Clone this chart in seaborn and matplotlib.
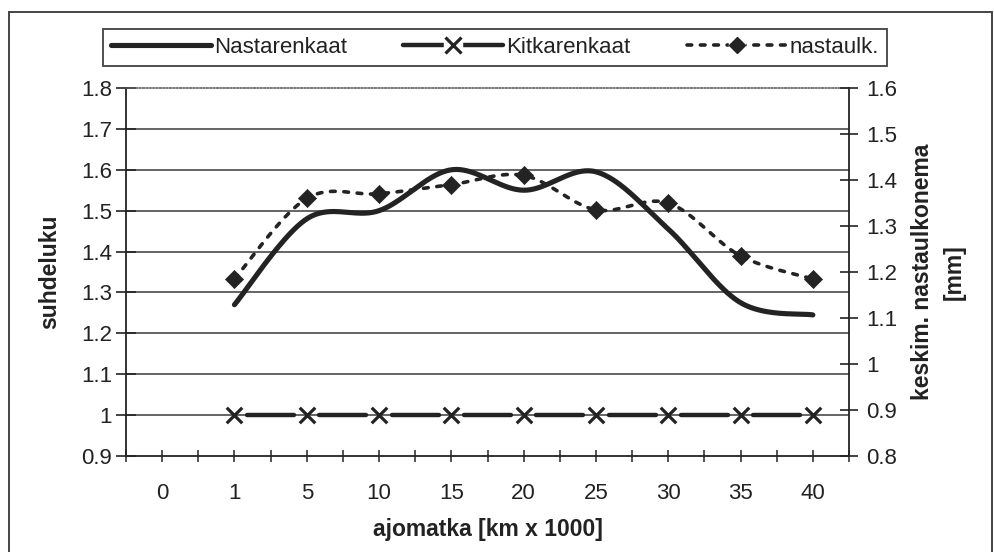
import numpy as np
import pandas as pd
import matplotlib
matplotlib.use("Agg")
import matplotlib.pyplot as plt
import seaborn as sns
from matplotlib.lines import Line2D
from matplotlib.legend_handler import HandlerTuple
from matplotlib.patches import Rectangle

# --- data -------------------------------------------------------------
categories = ["0", "1", "5", "10", "15", "20", "25", "30", "35", "40"]
nastarenkaat = [np.nan, 1.27, 1.48, 1.50, 1.60, 1.55, 1.595, 1.455, 1.275, 1.245]
kitkarenkaat = [np.nan, 1.0, 1.0, 1.0, 1.0, 1.0, 1.0, 1.0, 1.0, 1.0]
nastaulk = [np.nan, 1.185, 1.36, 1.37, 1.39, 1.41, 1.335, 1.35, 1.235, 1.185]

left_ticks = [0.9, 1.0, 1.1, 1.2, 1.3, 1.4, 1.5, 1.6, 1.7, 1.8]
left_labels = ["0.9", "1", "1.1", "1.2", "1.3", "1.4", "1.5", "1.6", "1.7", "1.8"]
right_ticks = [0.8, 0.9, 1.0, 1.1, 1.2, 1.3, 1.4, 1.5, 1.6]
right_labels = ["0.8", "0.9", "1", "1.1", "1.2", "1.3", "1.4", "1.5", "1.6"]

# --- style ------------------------------------------------------------
sns.set_style("ticks")
plt.rcParams["font.family"] = ["Liberation Sans", "DejaVu Sans"]
INK = "#232323"
GRID = "#3a3a3a"
DOTS = (0, (1.3, 2.4))

W, H = 994, 552
fig = plt.figure(figsize=(W / 100, H / 100), dpi=100)
fig.patch.set_facecolor("white")

# plot area in pixel coordinates
px_l, px_r, px_t, px_b = 126, 849, 88, 456
ax = fig.add_axes([px_l / W, 1 - px_b / H, (px_r - px_l) / W, (px_b - px_t) / H])
ax2 = ax.twinx()


def smooth(xs, ys, n=40):
    """Bezier smoothing through the points (control points from neighbours)."""
    pts = np.column_stack([xs, ys]).astype(float)
    m = len(pts)
    out = []
    for i in range(m - 1):
        p0 = pts[max(i - 1, 0)]
        p1 = pts[i]
        p2 = pts[i + 1]
        p3 = pts[min(i + 2, m - 1)]
        c1 = p1 + (p2 - p0) / 6.0
        c2 = p2 - (p3 - p1) / 6.0
        t = np.linspace(0, 1, n, endpoint=(i == m - 2))[:, None]
        seg = ((1 - t) ** 3) * p1 + 3 * ((1 - t) ** 2) * t * c1 \
            + 3 * (1 - t) * (t ** 2) * c2 + (t ** 3) * p2
        out.append(seg)
    return np.vstack(out)


pos = np.arange(len(categories))

# Nastarenkaat: thick smoothed solid line (left axis)
v = np.array(nastarenkaat, dtype=float)
ok = ~np.isnan(v)
cur = smooth(pos[ok], v[ok])
sns.lineplot(x=cur[:, 0], y=cur[:, 1], ax=ax, sort=False, estimator=None,
             color=INK, lw=3.7, zorder=4, solid_capstyle="round")

# Kitkarenkaat: thick segments broken at each x marker (left axis)
k = np.array(kitkarenkaat, dtype=float)
gap = 0.175
rows = []
valid = [i for i in range(len(k)) if not np.isnan(k[i])]
for a, b in zip(valid[:-1], valid[1:]):
    rows.append({"seg": a, "x": a + gap, "y": k[a]})
    rows.append({"seg": a, "x": b - gap, "y": k[b]})
seg_df = pd.DataFrame(rows)
sns.lineplot(data=seg_df, x="x", y="y", units="seg", estimator=None, ax=ax,
             color=INK, lw=3.2, zorder=4)
sns.scatterplot(x=pos[valid], y=k[valid], ax=ax, marker="x", s=125,
                color=INK, linewidth=2.3, zorder=5)

# nastaulk.: dotted smoothed line with diamonds (right axis)
d = np.array(nastaulk, dtype=float)
okd = ~np.isnan(d)
cur2 = smooth(pos[okd], d[okd])
sns.lineplot(x=cur2[:, 0], y=cur2[:, 1], ax=ax2, sort=False, estimator=None,
             color=INK, lw=2.6, linestyle=DOTS, dash_capstyle="round", zorder=3)
sns.scatterplot(x=pos[okd], y=d[okd], ax=ax2, marker="D", s=85,
                color=INK, edgecolor=INK, linewidth=0.5, zorder=5)

# --- axes ---------------------------------------------------------------
ax.set_xlim(-0.5, len(categories) - 0.5)
ax.set_ylim(0.9, 1.8)
ax2.set_ylim(0.8, 1.6)

ax.set_xticks(pos)
ax.set_xticklabels(categories)
ax.set_xticks(np.arange(-0.5, len(categories)), minor=True)
ax.set_yticks(left_ticks)
ax.set_yticklabels(left_labels)
ax2.set_yticks(right_ticks)
ax2.set_yticklabels(right_labels)

ax.grid(axis="y", color=GRID, lw=1.1)
ax.get_ygridlines()[-1].set_visible(False)
ax.get_ygridlines()[0].set_visible(False)
ax.set_axisbelow(True)

for s in ["left", "bottom"]:
    ax.spines[s].set_color(INK)
    ax.spines[s].set_linewidth(1.3)
ax.spines["right"].set_visible(False)
ax.spines["top"].set_visible(True)
ax.spines["top"].set_linestyle((0, (1, 1.2)))
ax.spines["top"].set_color("#555555")
ax.spines["top"].set_linewidth(1.1)
for s in ["left", "bottom", "top"]:
    ax2.spines[s].set_visible(False)
ax2.spines["right"].set_visible(True)
ax2.spines["right"].set_color(INK)
ax2.spines["right"].set_linewidth(1.3)

fs = 16
ax.tick_params(axis="y", direction="inout", length=14, width=1.2, color=INK,
               labelsize=fs, pad=3, labelcolor="#222222")
ax2.tick_params(axis="y", direction="inout", length=13, width=1.2, color=INK,
                labelsize=fs, pad=6, labelcolor="#222222")
ax.tick_params(axis="x", which="both", direction="inout", length=9, width=1.1,
               color=INK, labelsize=fs, pad=15, labelcolor="#222222")

ax.set_xlabel("ajomatka [km x 1000]", fontsize=16.5, fontweight="bold",
              labelpad=10, color="#222222")
ax.set_ylabel("suhdeluku", fontsize=16.5, fontweight="bold", labelpad=14,
              color="#222222")
ax2.set_ylabel("keskim. nastaulkonema\n[mm]", fontsize=16.5, fontweight="bold",
               labelpad=10, color="#222222", linespacing=1.45)

# --- legend -------------------------------------------------------------
h1 = Line2D([], [], color=INK, lw=3.7)
h2 = (Line2D([], [], color=INK, lw=3.2),
      Line2D([], [], ls="none", marker="s", markersize=13, mfc="white", mec="white"),
      Line2D([], [], ls="none", marker="x", markersize=11, mew=2.3, color=INK))
h3 = (Line2D([], [], color=INK, lw=2.6, linestyle=DOTS, dash_capstyle="round"),
      Line2D([], [], ls="none", marker="s", markersize=11, mfc="white", mec="white"),
      Line2D([], [], ls="none", marker="D", markersize=8, color=INK))
leg = fig.legend([h1, h2, h3], ["Nastarenkaat", "Kitkarenkaat", "nastaulk."],
                 handler_map={tuple: HandlerTuple(ndivide=1)},
                 loc="lower left",
                 bbox_to_anchor=(103 / W, 1 - 66 / H, 784 / W, 43 / H),
                 mode="expand", ncol=3, fontsize=fs, frameon=True,
                 fancybox=False, edgecolor=INK, borderaxespad=0,
                 handlelength=4.5, handletextpad=0.15, borderpad=0.35,
                 columnspacing=1.5)
leg.get_frame().set_linewidth(1.4)
for t in leg.get_texts():
    t.set_color("#222222")

# outer chart frame
fig.patches.append(Rectangle((9 / W, -0.1), 983 / W, 1 - 12 / H + 0.1,
                             transform=fig.transFigure, fill=False,
                             lw=1.4, ec="#444444"))

fig.savefig("out.png", dpi=100, facecolor="white")
